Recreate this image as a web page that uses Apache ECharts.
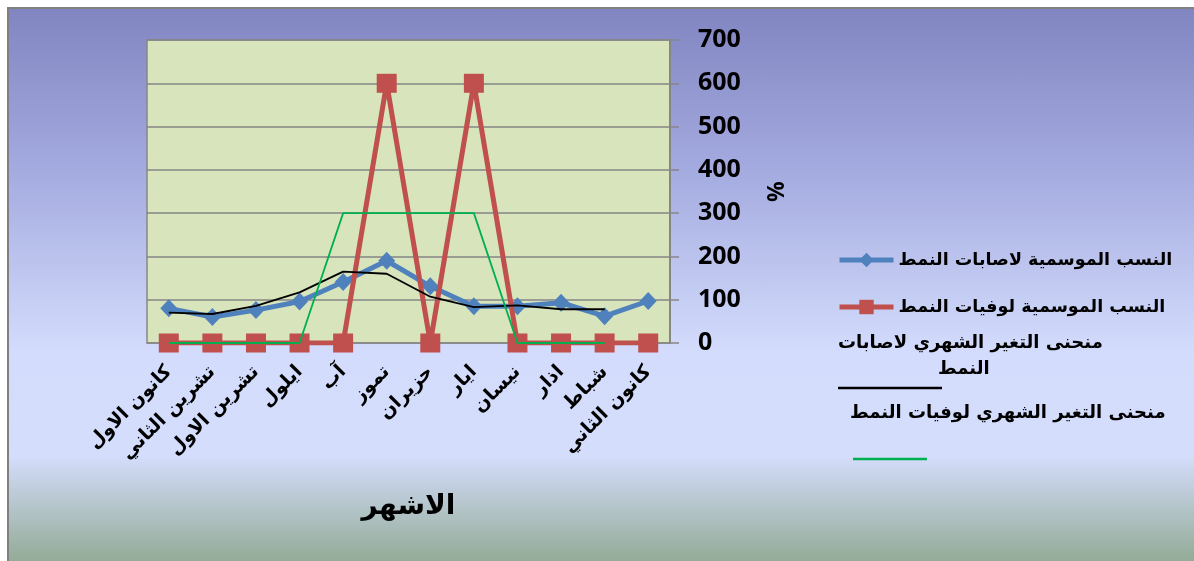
<!DOCTYPE html>
<html>
<head>
<meta charset="utf-8">
<script src="https://cdn.jsdelivr.net/npm/echarts@6/dist/echarts.min.js"></script>
<style>
  html, body { margin: 0; padding: 0; background: #ffffff; }
  #frame {
    position: absolute; left: 7px; top: 7px; width: 1187px; height: 554px;
    border-left: 2px solid #808080; border-top: 2px solid #808080;
    box-sizing: border-box;
    background: linear-gradient(to bottom, #8185c1 0%, #a5ace0 30%, #d3dcfc 62%, #d4ddfb 81%, #93ab97 100%);
  }
  #chart { position: absolute; left: 0; top: 0; width: 1194px; height: 561px; }
</style>
</head>
<body>
<div id="frame"></div>
<div id="chart"></div>
<script>
// Months, right-to-left as printed under the axis
const months = ['كانون الاول', 'تشرين الثاني', 'تشرين الاول', 'ايلول', 'آب', 'تموز',
                'حزيران', 'ايار', 'نيسان', 'اذار', 'شباط', 'كانون الثاني'];

// Seasonal indices (%)
const seasonalCases  = [80, 60, 76, 96, 141, 190, 131, 85, 85, 93, 62, 97];
const seasonalDeaths = [0, 0, 0, 0, 0, 600, 0, 600, 0, 0, 0, 0];

// Monthly change curves (%)
const monthlyCases  = [70, 67, 86, 117, 165, 160, 107, 83, 87, 78, 78, null];
const monthlyDeaths = [0, 0, 0, 0, 300, 300, 300, 300, 0, 0, 0, null];

// Value axis ticks
const yTicks = [0, 100, 200, 300, 400, 500, 600, 700];

const names = [
  'النسب الموسمية لاصابات النمط',
  'النسب الموسمية لوفيات النمط'
];
const curveNameCases  = 'منحنى التغير الشهري لاصابات';
const curveNameCases2 = 'النمط';
const curveNameDeaths = 'منحنى التغير الشهري لوفيات النمط';

const arabicFont = 'DejaVu Sans';
const gridColor = '#868686';
const blue = '#4f81bd', red = '#c0504d', green = '#00b050';

const chart = echarts.init(document.getElementById('chart'), null, { renderer: 'canvas' });

chart.setOption({
  animation: false,
  backgroundColor: 'transparent',
  grid: {
    left: 147, top: 40, width: 523, height: 303,
    show: true, backgroundColor: '#d8e4bc',
    borderColor: gridColor, borderWidth: 1.5
  },
  legend: {
    orient: 'vertical',
    left: 832, top: 246,
    itemWidth: 54, itemHeight: 18, itemGap: 29,
    lineStyle: { width: 5 },
    data: names,
    textStyle: { fontFamily: arabicFont, fontWeight: 'bold', fontSize: 17.5, color: '#000' }
  },
  xAxis: {
    type: 'category',
    data: months,
    boundaryGap: true,
    axisLine: { show: false },
    axisTick: { show: false },
    axisLabel: {
      rotate: 45, margin: 26, interval: 0,
      fontFamily: arabicFont, fontWeight: 'bold', fontSize: 19, color: '#000'
    },
    name: 'الاشهر',
    nameLocation: 'middle',
    nameGap: 150,
    nameTextStyle: { fontFamily: arabicFont, fontWeight: 'bold', fontSize: 28, color: '#000' }
  },
  yAxis: {
    type: 'value',
    position: 'right',
    min: yTicks[0], max: yTicks[yTicks.length - 1], interval: 100,
    axisLine: { show: true, lineStyle: { color: gridColor, width: 2 } },
    axisTick: { show: true, inside: false, length: 9, lineStyle: { color: gridColor, width: 1.5 } },
    splitLine: { show: true, lineStyle: { color: gridColor, width: 1.5 } },
    axisLabel: {
      margin: 28, fontFamily: 'Open Sans', fontWeight: 'bold', fontSize: 25, color: '#000'
    },
    name: '%',
    nameLocation: 'middle',
    nameGap: 92,
    nameRotate: -90,
    nameTextStyle: { fontFamily: 'Open Sans', fontWeight: 'bold', fontSize: 23, color: '#000' }
  },
  series: [
    {
      name: names[0], type: 'line', data: seasonalCases,
      symbol: 'diamond', symbolSize: [17, 18],
      lineStyle: { color: blue, width: 5 },
      itemStyle: { color: blue }, z: 2
    },
    {
      name: names[1], type: 'line', data: seasonalDeaths,
      symbol: 'rect', symbolSize: [20, 19],
      lineStyle: { color: red, width: 5 },
      itemStyle: { color: red }, z: 3
    },
    {
      name: curveNameCases, type: 'line', data: monthlyCases,
      symbol: 'none', lineStyle: { color: '#000', width: 1.8 }, z: 4
    },
    {
      name: curveNameDeaths, type: 'line', data: monthlyDeaths,
      symbol: 'none', lineStyle: { color: green, width: 1.8 }, z: 5
    }
  ],
  graphic: [
    { type: 'text', left: 838, top: 334,
      style: { text: curveNameCases, font: 'bold 18px "DejaVu Sans"', fill: '#000' } },
    { type: 'text', left: 938, top: 360,
      style: { text: curveNameCases2, font: 'bold 18px "DejaVu Sans"', fill: '#000' } },
    { type: 'line', shape: { x1: 838, y1: 388, x2: 942, y2: 388 },
      style: { stroke: '#000', lineWidth: 2.5 } },
    { type: 'text', left: 850, top: 404,
      style: { text: curveNameDeaths, font: 'bold 18px "DejaVu Sans"', fill: '#000' } },
    { type: 'line', shape: { x1: 853, y1: 459, x2: 927, y2: 459 },
      style: { stroke: green, lineWidth: 2.5 } }
  ]
});
</script>
</body>
</html>
